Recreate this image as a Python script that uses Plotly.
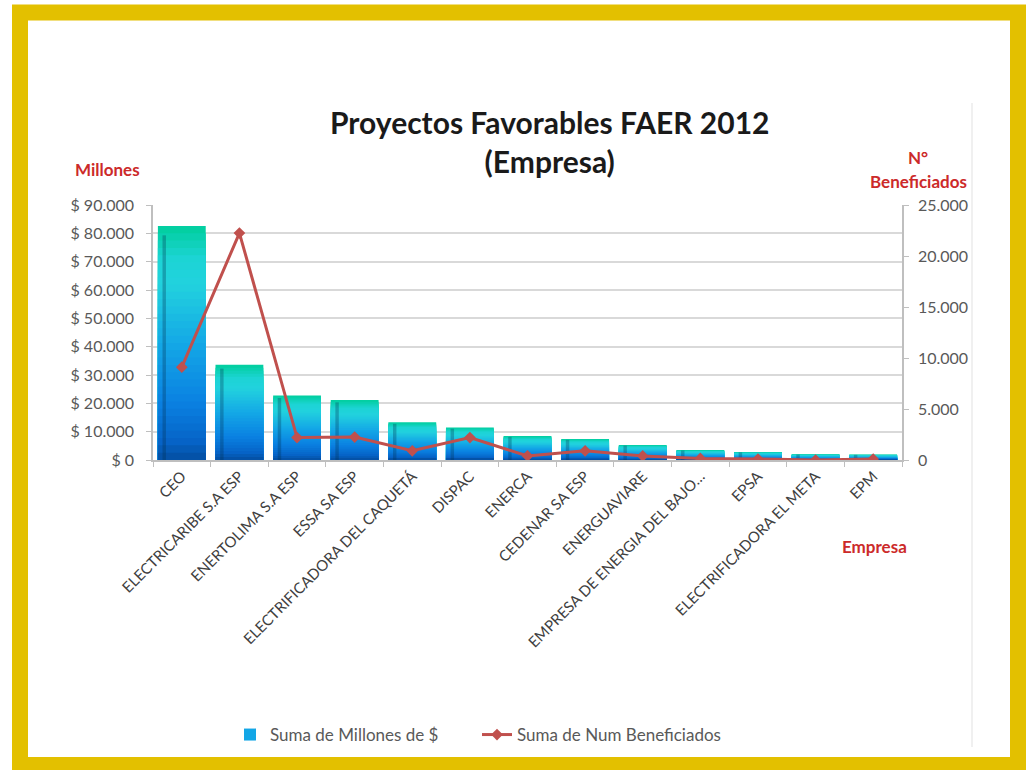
import plotly.graph_objects as go

# ---------------- data ----------------
categories = ["CEO", "ELECTRICARIBE S.A ESP", "ENERTOLIMA S.A ESP", "ESSA SA ESP",
              "ELECTRIFICADORA DEL CAQUETÁ", "DISPAC", "ENERCA", "CEDENAR SA ESP",
              "ENERGUAVIARE", "EMPRESA DE ENERGIA DEL BAJO…", "EPSA",
              "ELECTRIFICADORA EL META", "EPM"]
millones = [82600, 33600, 22800, 21200, 13300, 11500, 8500, 7400, 5300, 3500, 2800, 2000, 1900]
beneficiados = [9100, 22250, 2200, 2250, 900, 2200, 400, 900, 400, 150, 100, 0, 100]

left_ticks = [0, 10000, 20000, 30000, 40000, 50000, 60000, 70000, 80000, 90000]
left_ticktext = ["$ 0", "$ 10.000", "$ 20.000", "$ 30.000", "$ 40.000", "$ 50.000",
                 "$ 60.000", "$ 70.000", "$ 80.000", "$ 90.000"]
right_ticks = [0, 5000, 10000, 15000, 20000, 25000]
right_ticktext = ["0", "5.000", "10.000", "15.000", "20.000", "25.000"]

# ---------------- style helpers ----------------
W, H = 1027, 770
FONT = "Lato"
stops = [(0.0, (4, 78, 160)), (0.08, (6, 100, 200)), (0.25, (10, 130, 226)),
         (0.5, (20, 168, 230)), (0.75, (34, 210, 222)), (0.86, (28, 212, 212)),
         (1.0, (0, 206, 156))]


def grad(f):
    for (f0, c0), (f1, c1) in zip(stops[:-1], stops[1:]):
        if f0 <= f <= f1:
            t = (f - f0) / (f1 - f0) if f1 > f0 else 0
            c = [round(a + (b - a) * t) for a, b in zip(c0, c1)]
            return "rgb(%d,%d,%d)" % tuple(c)
    return "rgb(%d,%d,%d)" % stops[-1][1]


def px_x(x):
    return x / W


def px_y(y):
    return 1 - y / H


fig = go.Figure()

N = 32
BW = 0.83
for i in range(N, 0, -1):
    f = i / N
    fig.add_trace(go.Bar(
        x=categories, y=[v * f for v in millones],
        width=BW, marker=dict(color=grad(f - 0.5 / N), line=dict(width=0)),
        name="Suma de Millones de $", legendgroup="m",
        showlegend=(i == N // 2), hoverinfo="skip" if i != N else None,
        yaxis="y"))

# dark stripe near left edge of each bar
fig.add_trace(go.Bar(
    x=categories, y=[v * 0.96 for v in millones], width=0.06, offset=-0.335,
    marker=dict(color="rgba(0,45,80,0.3)", line=dict(width=0)),
    showlegend=False, hoverinfo="skip", yaxis="y"))

# line series
fig.add_trace(go.Scatter(
    x=categories, y=beneficiados, yaxis="y2", mode="lines+markers",
    name="Suma de Num Beneficiados",
    line=dict(color="#C0504D", width=3),
    marker=dict(symbol="diamond", size=9, color="#C0504D")))

x0d, x1d = px_x(153), px_x(902)
y0d, y1d = px_y(460), px_y(205)

red = dict(size=17, color="#CC2A2A", family=FONT)

fig.update_layout(
    width=W, height=H,
    margin=dict(l=0, r=0, t=0, b=0),
    paper_bgcolor="white", plot_bgcolor="rgba(0,0,0,0)",
    barmode="overlay",
    separators=",.",
    font=dict(family=FONT, color="#595959", size=15),
    xaxis=dict(domain=[x0d, x1d], type="category", range=[-0.5, 12.5],
               showline=True, linecolor="#BFBFBF", linewidth=1.5,
               ticks="outside", tickson="boundaries", ticklen=5, tickcolor="#BFBFBF",
               tickangle=-45, tickfont=dict(size=15, color="#404040"),
               showgrid=False, automargin=False, fixedrange=True),
    yaxis=dict(domain=[y0d, y1d], range=[0, 90000], tickvals=left_ticks,
               ticktext=left_ticktext,
               showline=True, linecolor="#BFBFBF", linewidth=1.5,
               ticks="outside", ticklen=5, tickcolor="#BFBFBF",
               ticklabelstandoff=9,
               tickfont=dict(size=16, color="#595959"),
               showgrid=True, gridcolor="#D9D9D9", gridwidth=1.5,
               zeroline=False, automargin=False),
    yaxis2=dict(overlaying="y", side="right", anchor="x", range=[0, 25000],
                tickvals=right_ticks, ticktext=right_ticktext,
                showline=True, linecolor="#BFBFBF", linewidth=1.5,
                ticks="outside", ticklen=5, tickcolor="#BFBFBF",
                ticklabelstandoff=6,
                tickfont=dict(size=16, color="#595959"),
                showgrid=False, zeroline=False, automargin=False),
    legend=dict(orientation="h", x=px_x(230), xanchor="left", y=px_y(735),
                yanchor="middle", font=dict(size=17, color="#595959"),
                entrywidth=202, entrywidthmode="pixels",
                bgcolor="rgba(0,0,0,0)", traceorder="normal"),
    showlegend=True,
    shapes=[
        dict(type="line", xref="paper", yref="paper", x0=px_x(972), x1=px_x(972),
             y0=px_y(103), y1=px_y(747), line=dict(color="#F0F0F0", width=2)),
        dict(type="rect", xref="paper", yref="paper", x0=px_x(20), x1=px_x(1018),
             y0=px_y(765), y1=px_y(12.5), line=dict(color="#E3C000", width=16),
             fillcolor="rgba(0,0,0,0)"),
    ],
    annotations=[
        dict(text="<b>Proyectos Favorables FAER 2012</b><br><b>(Empresa)</b>",
             xref="paper", yref="paper", x=px_x(549), y=px_y(141), showarrow=False,
             font=dict(size=30, color="#1A1A1A", family=FONT), align="center",
             xanchor="center", yanchor="middle"),
        dict(text="<b>Millones</b>", xref="paper", yref="paper", x=px_x(107),
             y=px_y(169), showarrow=False, font=red,
             xanchor="center", yanchor="middle"),
        dict(text="<b>N°</b>", xref="paper", yref="paper", x=px_x(918),
             y=px_y(158), showarrow=False, font=red,
             xanchor="center", yanchor="middle"),
        dict(text="<b>Beneficiados</b>", xref="paper", yref="paper", x=px_x(918),
             y=px_y(182), showarrow=False, font=red,
             xanchor="center", yanchor="middle"),
        dict(text="<b>Empresa</b>", xref="paper", yref="paper", x=px_x(874),
             y=px_y(546), showarrow=False, font=red,
             xanchor="center", yanchor="middle"),
    ],
)

fig.write_html("out.html", config={"displayModeBar": False},
               post_script="document.body.style.margin='0';")
